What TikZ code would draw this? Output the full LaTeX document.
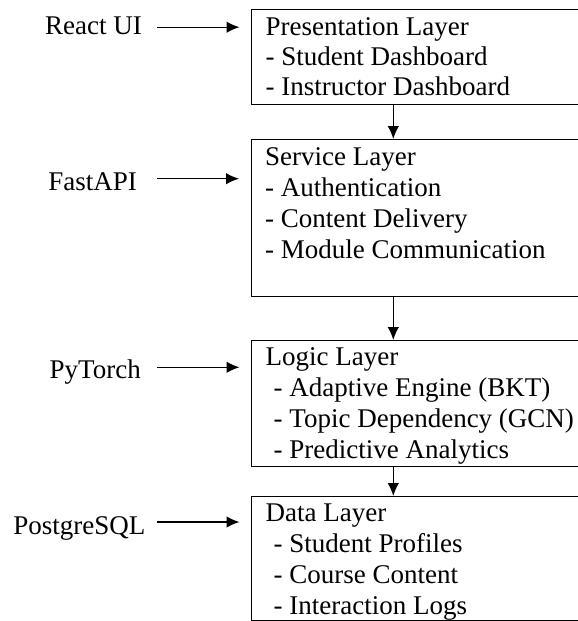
\documentclass[tikz,border=0pt]{standalone}
\usepackage{fontspec}
\setmainfont{Liberation Serif}
\usetikzlibrary{arrows.meta}
\newcommand{\firstline}{\rule{0pt}{20pt}}
\tikzset{
  layerbox/.style={draw=black, line width=1.4pt, rectangle, inner sep=0pt, anchor=north west, minimum width=360pt},
  boxtext/.style={anchor=north west, inner sep=0pt, align=left, font=\fontsize{27}{31}\selectfont},
  lab/.style={anchor=base east, inner sep=0pt, font=\fontsize{27}{31}\selectfont},
  arr/.style={line width=1.3pt, -{Latex[length=13pt,width=11.5pt]}},
}
\begin{document}
\begin{tikzpicture}[x=1pt,y=-1pt]
\useasboundingbox (0,0) rectangle (578,621);
\clip (0,0) rectangle (578,621);
\fill[white] (0,0) rectangle (578,621);
% helper x position of the vertical arrows
\coordinate (vx) at (393.3,0);
% layer boxes
\node[layerbox, minimum height=95pt]  (b1) at (251,9)   {};
\node[layerbox, minimum height=157pt] (b2) at (250.5,139) {};
\node[layerbox, minimum height=126pt] (b3) at (251,340) {};
\node[layerbox, minimum height=124pt] (b4) at (251,496) {};
% box texts
\node[boxtext, font=\fontsize{27}{30}\selectfont] (t1) at (265.5,15)  {\firstline Presentation Layer\\- Student Dashboard\\- Instructor Dashboard};
\node[boxtext] (t2) at (265,145) {\firstline Service Layer\\- Authentication\\- Content Delivery\\- Module Communication};
\node[boxtext] (t3) at (265.5,345.5) {\firstline Logic Layer\\\hspace*{8pt}- Adaptive Engine (BKT)\\\hspace*{8pt}- Topic Dependency (GCN)\\\hspace*{8pt}- Predictive Analytics};
\node[boxtext] (t4) at (265.5,501) {\firstline Data Layer\\\hspace*{8pt}- Student Profiles\\\hspace*{8pt}- Course Content\\\hspace*{8pt}- Interaction Logs};
% technology labels
\node[lab] (l1) at (142,34.3)  {React UI};
\node[lab] (l2) at (137,190.7) {FastAPI};
\node[lab] (l3) at (141,378.3) {PyTorch};
\node[lab] (l4) at (145.6,534) {PostgreSQL};
% arrow start points
\coordinate (s1) at (157,27.2);
\coordinate (s2) at (157,178.7);
\coordinate (s3) at (157,367.3);
\coordinate (s4) at (157,522);
% horizontal arrows
\draw[arr, shorten >=11.5pt] (s1) -- (s1 -| b1.west);
\draw[arr, shorten >=11.5pt] (s2) -- (s2 -| b2.west);
\draw[arr, shorten >=11.5pt] (s3) -- (s3 -| b3.west);
\draw[arr, shorten >=11.5pt] (s4) -- (s4 -| b4.west);
% vertical arrows
\draw[arr] (b1.south -| vx) -- (b2.north -| vx);
\draw[arr] (b2.south -| vx) -- (b3.north -| vx);
\draw[arr] (b3.south -| vx) -- (b4.north -| vx);
\end{tikzpicture}
\end{document}
